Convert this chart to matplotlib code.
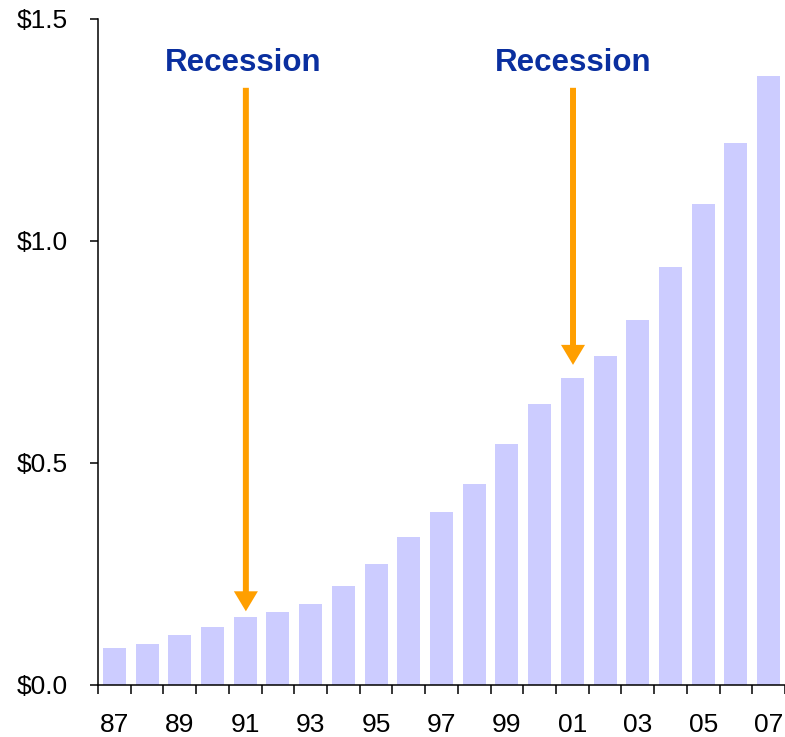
import matplotlib
matplotlib.use("Agg")
import matplotlib.pyplot as plt
import numpy as np

plt.rcParams['font.family'] = ['Liberation Sans', 'DejaVu Sans']

# datos
years = ["87", "88", "89", "90", "91", "92", "93", "94", "95", "96", "97",
         "98", "99", "00", "01", "02", "03", "04", "05", "06", "07"]
values = [0.083, 0.092, 0.113, 0.131, 0.154, 0.164, 0.182, 0.222, 0.273, 0.333, 0.390,
          0.453, 0.543, 0.633, 0.691, 0.741, 0.822, 0.941, 1.083, 1.221, 1.372]
recession_years = ["91", "01"]
yticks = [0.0, 0.5, 1.0, 1.5]
ylabels = ["$0.0", "$0.5", "$1.0", "$1.5"]

fig = plt.figure(figsize=(7.85, 7.37), dpi=100)
ax = fig.add_axes([98/785, 52/737, 687/785, 666/737])

x = np.arange(len(years))
ax.bar(x, values, width=0.7, color='#CCCCFF', zorder=2)

ax.set_xlim(-0.5, 20.25)
ax.set_ylim(0, 1.5)

# etiquetas cada dos años, marcas entre barras
ax.set_xticks(x[::2], years[::2])
ax.set_xticks(np.arange(-0.5, 21, 1), minor=True)
ax.tick_params(axis='x', which='major', length=0, pad=20, labelsize=19)
ax.tick_params(axis='x', which='minor', length=6.5, width=1.1, direction='out')
ax.set_yticks(yticks, ylabels)
ax.tick_params(axis='y', length=6, width=1.1, pad=16, labelsize=19)

for s in ['top', 'right']:
    ax.spines[s].set_visible(False)
ax.spines['left'].set_linewidth(1.1)
ax.spines['bottom'].set_linewidth(1.1)

# flechas de recesion
for yr in recession_years:
    i = years.index(yr)
    tip = values[i] + 0.012 if yr == "91" else values[i] + 0.03
    ax.annotate('', xy=(i + 0.02, tip), xytext=(i + 0.02, 1.345),
                arrowprops=dict(arrowstyle='simple,head_length=14.4,head_width=17.3,tail_width=4.3',
                                mutation_scale=1, color='#FF9F00', lw=0,
                                shrinkA=0, shrinkB=0), zorder=3)
    ax.text(i - 0.05 if yr == "91" else i + 0.02, 1.40, "Recession", ha='center', va='center',
            fontsize=22.5, fontweight='bold', color='#0A2F9F')

fig.savefig("out.png", dpi=100)
